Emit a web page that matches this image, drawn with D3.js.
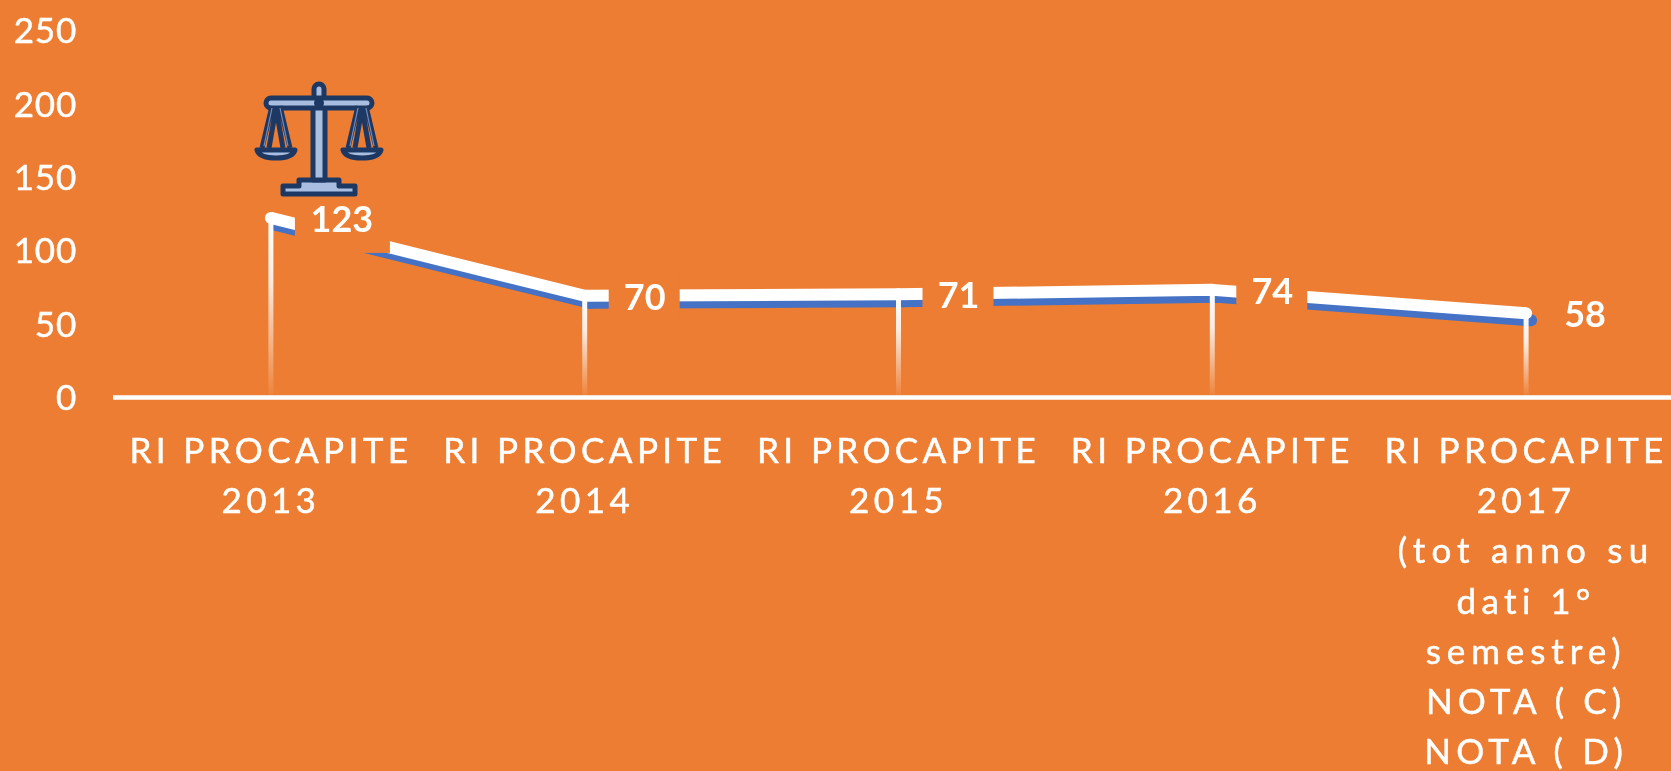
<!DOCTYPE html>
<html><head><meta charset="utf-8">
<script src="https://cdn.jsdelivr.net/npm/d3@7"></script>
<style>html,body{margin:0;padding:0;background:#ED7D31;overflow:hidden}svg{display:block}text{font-family:Lato,"Open Sans",sans-serif;fill:#fff}</style>
</head><body><svg id="c" width="1671" height="771"></svg>
<script>
const years = ["2013","2014","2015","2016","2017"];
const values = [123,70,71,74,58];
const yTicks = [0,50,100,150,200,250];
const catLabels = [
 ["RI PROCAPITE","2013"],
 ["RI PROCAPITE","2014"],
 ["RI PROCAPITE","2015"],
 ["RI PROCAPITE","2016"],
 ["RI PROCAPITE","2017","(tot anno su","dati 1°","semestre)","NOTA ( C)","NOTA ( D)"]
];
const labelDx = [71,60,60,60,59];
const lineSpacing = [4.4,4.4,6.2,5.4,5.9,5.1,5.2];

const svg = d3.select("#c");
const defs = svg.append("defs");
const grad = defs.append("linearGradient").attr("id","stem").attr("x1",0).attr("x2",0).attr("y1",0).attr("y2",1).attr("gradientUnits","objectBoundingBox");
grad.append("stop").attr("offset",0).attr("stop-color","#fff");
grad.append("stop").attr("offset",0.35).attr("stop-color","#fff").attr("stop-opacity",.85);
grad.append("stop").attr("offset",1).attr("stop-color","#fff").attr("stop-opacity",.05);
defs.append("filter").attr("id","soft").attr("x","-5%").attr("y","-5%").attr("width","110%").attr("height","110%")
  .append("feGaussianBlur").attr("stdDeviation",0.7);

const x = d3.scaleBand().domain(years).range([114,1683]);
const y = d3.scaleLinear().domain([0,250]).range([398.5,31.5]);
const cx = d => x(d)+x.bandwidth()/2;
const root = svg.append("g").attr("filter","url(#soft)");
root.append("rect").attr("x",-5).attr("y",-5).attr("width",1681).attr("height",781).attr("fill","#ED7D31");

// y axis
const yAxis = d3.axisLeft(y).tickValues(yTicks).tickSize(0).tickPadding(0);
const gy = root.append("g").attr("transform","translate(77,-1.5)").call(yAxis);
gy.select(".domain").remove();
gy.selectAll("text").attr("font-size",35).attr("fill","#fff").attr("stroke","#fff").attr("stroke-width",0.5).attr("letter-spacing",0.8).style("font-family","Lato").attr("dy","0.36em");

// baseline
root.append("line").attr("x1",113).attr("x2",1671).attr("y1",y(0)-1).attr("y2",y(0)-1).attr("stroke","#fff").attr("stroke-width",4.5);

const line = d3.line().x((d,i)=>cx(years[i])).y(d=>y(d));
// shadow series
const shadow = root.append("g").attr("transform","translate(5,7)");
shadow.append("path").datum(values).attr("d",line).attr("fill","none").attr("stroke","#4472C4").attr("stroke-width",12).attr("stroke-linejoin","round");
shadow.selectAll("circle").data(values).join("circle").attr("cx",(d,i)=>cx(years[i])).attr("cy",d=>y(d)).attr("r",6).attr("fill","#4472C4");

// drop lines
root.selectAll(".stem").data(values).join("rect").attr("class","stem")
 .attr("x",(d,i)=>cx(years[i])-2.5).attr("width",5)
 .attr("y",d=>y(d)).attr("height",d=>y(0)-y(d)-3).attr("fill","url(#stem)");

// white line
root.append("path").datum(values).attr("d",line).attr("fill","none").attr("stroke","#fff").attr("stroke-width",12).attr("stroke-linejoin","round");
root.selectAll(".pt").data(values).join("circle").attr("class","pt").attr("cx",(d,i)=>cx(years[i])).attr("cy",d=>y(d)).attr("r",6).attr("fill","#fff");

// data labels with background
const lab = root.selectAll(".lab").data(values).join("g").attr("class","lab")
 .attr("transform",(d,i)=>`translate(${cx(years[i])+labelDx[i]},${y(d)+1})`);
lab.append("rect").attr("x",(d,i)=>i==0?-47:-36).attr("width",(d,i)=>i==0?95:71).attr("y",-23).attr("height",(d,i)=>i==0?57:52).attr("fill","#ED7D31");
lab.append("text").attr("text-anchor","middle").attr("dy","0.36em").attr("font-size",36).attr("font-weight",700).text(d=>d);

// category labels
const cat = root.selectAll(".cat").data(catLabels).join("g").attr("class","cat")
 .attr("transform",(d,i)=>`translate(${cx(years[i])},450)`);
cat.selectAll("text").data(d=>d).join("text").attr("text-anchor","middle")
 .attr("y",(d,i)=>i*50.3).attr("dy","0.36em").attr("font-size",35).attr("stroke","#fff").attr("stroke-width",0.5)
 .attr("letter-spacing",(d,i)=>lineSpacing[i]).text(d=>d);

// scales icon (decoration)
const dark="#1F3864", light="#A9BEE0";
const ic = root.append("g").attr("transform","translate(319,0)");
function stroked(sel){return sel.attr("stroke",dark).attr("stroke-width",5).attr("fill",light).attr("stroke-linejoin","round");}
stroked(ic.append("rect").attr("x",-5).attr("y",84).attr("width",10).attr("height",24).attr("rx",5));
stroked(ic.append("path").attr("d","M-36,186 H-20 V180 H20 V186 H36 V194 H-36 Z"));
stroked(ic.append("rect").attr("x",-6).attr("y",102).attr("width",12).attr("height",78));
stroked(ic.append("rect").attr("x",-53).attr("y",98).attr("width",106).attr("height",10).attr("rx",5));
ic.append("circle").attr("cy",103).attr("r",5).attr("fill",dark);
[-43,43].forEach(dx=>{
  const s=ic.append("g").attr("transform",`translate(${dx},0)`);
  s.append("path").attr("d","M-4,106 L-14,148 M4,106 L14,148 M0,108 L-7,148 M0,108 L7,148").attr("fill","none").attr("stroke",dark).attr("stroke-width",5);
  s.append("path").attr("d","M-4,108 L-12,146 M4,108 L12,146").attr("fill","none").attr("stroke","#6f8fc0").attr("stroke-width",1.2);
  stroked(s.append("path").attr("d","M-19,150 H19 C17,157 8,158 0,158 C-8,158 -17,157 -19,150 Z"));
});
</script></body></html>
